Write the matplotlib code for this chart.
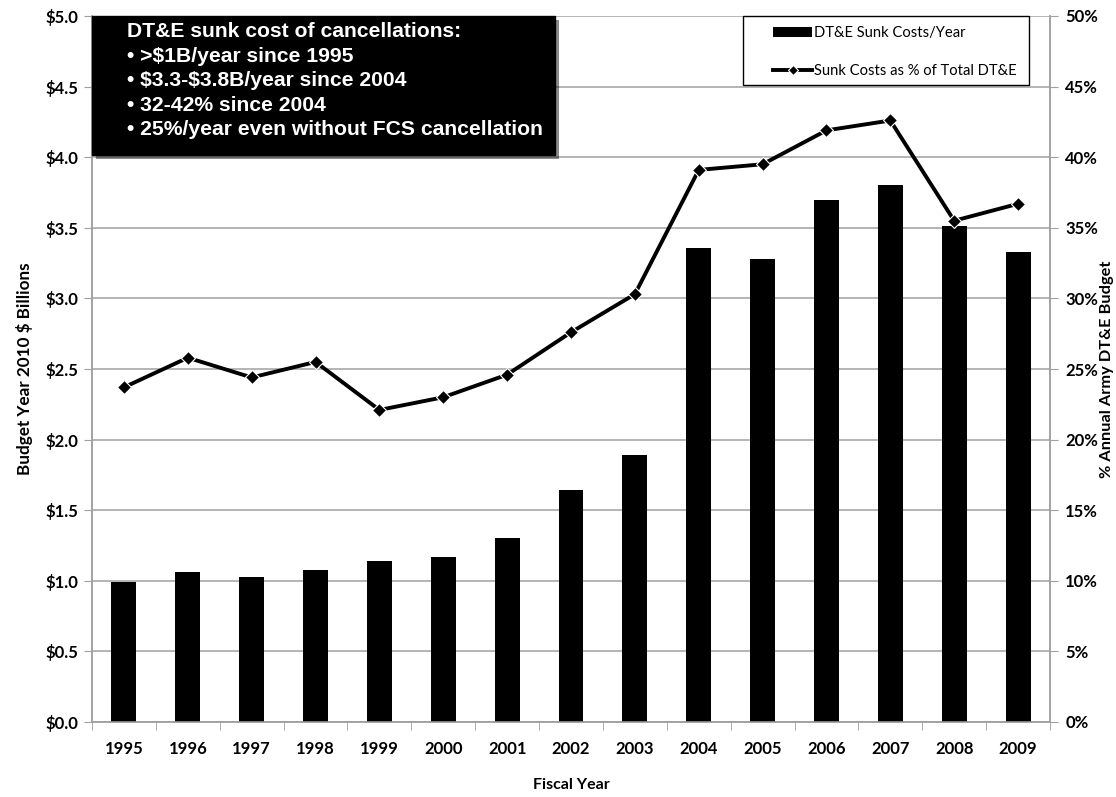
import matplotlib
matplotlib.use("Agg")
import matplotlib.pyplot as plt
import matplotlib.patheffects as pe
from matplotlib.patches import Rectangle
import numpy as np

# Army DT&E sunk costs, FY1995-2009
years = ["1995", "1996", "1997", "1998", "1999", "2000", "2001", "2002",
         "2003", "2004", "2005", "2006", "2007", "2008", "2009"]
sunk_costs = [0.99, 1.06, 1.03, 1.08, 1.14, 1.17, 1.30, 1.64,
              1.89, 3.36, 3.28, 3.70, 3.80, 3.51, 3.33]
pct_of_total = [23.7, 25.8, 24.4, 25.5, 22.1, 23.0, 24.6, 27.6,
                30.3, 39.1, 39.5, 41.9, 42.6, 35.5, 36.7]

left_ticks = np.arange(0, 5.01, 0.5)
left_labels = ["\\$%.1f" % v for v in left_ticks]
right_ticks = np.arange(0, 50.1, 5)
right_labels = ["%d%%" % v for v in right_ticks]

callout_lines = ["DT&E sunk cost of cancellations:",
                 "\u2022 >\\$1B/year since 1995",
                 "\u2022 \\$3.3-\\$3.8B/year since 2004",
                 "\u2022 32-42% since 2004",
                 "\u2022 25%/year even without FCS cancellation"]

plt.rcParams["font.family"] = ["Lato", "DejaVu Sans"]
grid_gray = "#a0a0a0"
W, H = 1116, 797

fig = plt.figure(figsize=(11.16, 7.97), dpi=100)
ax = fig.add_axes([92 / W, 1 - 722 / H, 958 / W, 706 / H])
ax2 = ax.twinx()

x = np.arange(len(years))
bars = ax.bar(x, sunk_costs, width=0.39, color="black", zorder=3,
              label="DT&E Sunk Costs/Year")
line, = ax2.plot(x, pct_of_total, color="black", lw=2.8, marker="D",
                 markersize=7, markeredgecolor="white", markeredgewidth=0.8,
                 label="Sunk Costs as % of Total DT&E", zorder=4)

ax.set_xlim(-0.5, len(years) - 0.5)
ax.set_ylim(0, 5)
ax2.set_ylim(0, 50)

ax.set_yticks(left_ticks)
ax.set_yticklabels(left_labels, fontsize=12, fontweight="bold")
ax2.set_yticks(right_ticks)
ax2.set_yticklabels(right_labels, fontsize=12, fontweight="bold")

# category labels centred, tick marks on the category boundaries
ax.set_xticks(x)
ax.set_xticklabels(years, fontsize=12, fontweight="bold")
ax.set_xticks(np.arange(-0.5, len(years)), minor=True)
ax.tick_params(axis="x", which="major", length=0, pad=14)
ax.tick_params(axis="x", which="minor", length=6, color=grid_gray)
ax.tick_params(axis="y", length=6, color=grid_gray, pad=4)
ax2.tick_params(axis="y", length=6, color=grid_gray, pad=5)

ax.yaxis.grid(True, color=grid_gray, lw=1.1, zorder=0)
ax.set_axisbelow(True)
for a in (ax, ax2):
    a.spines["top"].set_visible(False)
    for side in ("left", "right", "bottom"):
        a.spines[side].set_color(grid_gray)
        a.spines[side].set_linewidth(1.1)
ax2.patch.set_visible(False)
ax.set_zorder(1)
ax2.set_zorder(2)

ax.set_xlabel("Fiscal Year", fontsize=11.5, fontweight="bold", labelpad=15)
ax.set_ylabel("Budget Year 2010 \\$ Billions", fontsize=12.3,
              fontweight="bold", labelpad=9)
ax2.set_ylabel("% Annual Army DT&E Budget", fontsize=11.8, fontweight="bold",
               labelpad=1)

# legend frame is a separate box so it can be wider than its entries
legend_box = Rectangle((743 / W, 1 - 85 / H), 286 / W, 69 / H,
                       transform=fig.transFigure, facecolor="white",
                       edgecolor="black", lw=1.0, zorder=8)
fig.patches.append(legend_box)
leg = fig.legend([bars, line], [bars.get_label(), line.get_label()],
                 loc="upper left", bbox_to_anchor=(766 / W, 1 - 19 / H),
                 fontsize=10.6, frameon=False, borderpad=0.5,
                 labelspacing=1.6, handlelength=2.6, handletextpad=0.15,
                 borderaxespad=0)
leg.set_zorder(9)
for h in leg.legend_handles:
    if hasattr(h, "set_markersize"):
        h.set_markersize(5.5)

# black callout box with drop shadow in the top-left corner
callout_box = Rectangle((92 / W, 1 - 155 / H), 463 / W, 139 / H,
                        transform=fig.transFigure, facecolor="black",
                        edgecolor="black", zorder=10,
                        path_effects=[pe.SimplePatchShadow(offset=(3, -3),
                                                           alpha=0.45),
                                      pe.Normal()])
fig.patches.append(callout_box)
fig.text(127 / W, 1 - 22 / H, "\n".join(callout_lines), ha="left", va="top",
         color="white", fontsize=15.2, fontweight="bold",
         family=["Liberation Sans", "DejaVu Sans"], linespacing=1.37,
         zorder=11)

fig.savefig("out.png", dpi=100)
